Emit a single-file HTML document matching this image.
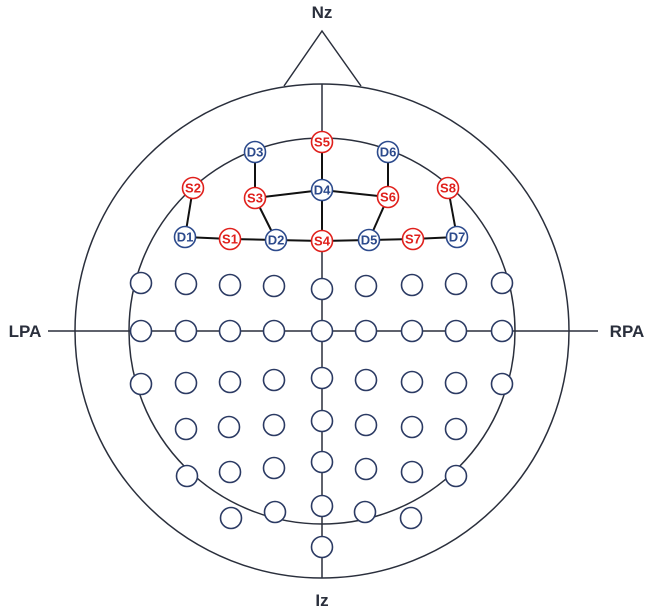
<!DOCTYPE html>
<html><head><style>html,body{margin:0;padding:0;background:#fff}</style></head><body>
<svg width="650" height="610" viewBox="0 0 650 610" xmlns="http://www.w3.org/2000/svg" font-family="Liberation Sans, sans-serif">
<g fill="none" stroke="#2a2f3c" stroke-width="1.5">
<circle cx="322" cy="331" r="247"/>
<circle cx="322" cy="331" r="193"/>
<polyline points="284,86 322,31 361,86"/>
<line x1="322" y1="84" x2="322" y2="578"/>
<line x1="48" y1="331" x2="598" y2="331"/>
</g>
<g font-weight="bold" font-size="17" fill="#2a2f3c" text-anchor="middle">
<text x="322" y="18">Nz</text>
<text x="25" y="337">LPA</text>
<text x="627" y="337">RPA</text>
<text x="322" y="606">Iz</text>
</g>
<g stroke="#111" stroke-width="2">
<line x1="322" y1="142" x2="322" y2="190"/>
<line x1="255" y1="152" x2="255" y2="198"/>
<line x1="388" y1="152" x2="388" y2="197"/>
<line x1="255" y1="198" x2="322" y2="190"/>
<line x1="322" y1="190" x2="388" y2="197"/>
<line x1="255" y1="198" x2="276" y2="240"/>
<line x1="322" y1="190" x2="322" y2="241"/>
<line x1="388" y1="197" x2="369" y2="240"/>
<line x1="193" y1="188" x2="185" y2="237"/>
<line x1="448" y1="188" x2="457" y2="237"/>
<polyline fill="none" points="185,237 230,239 276,240 322,241 369,240 413,239 457,237"/>
</g>
<g fill="#fff" stroke="#2b3a63" stroke-width="1.6">
<circle cx="141" cy="283" r="10.5"/><circle cx="186" cy="284" r="10.5"/><circle cx="230" cy="285" r="10.5"/><circle cx="274" cy="286" r="10.5"/><circle cx="322" cy="289" r="10.5"/><circle cx="366" cy="286" r="10.5"/><circle cx="412" cy="285" r="10.5"/><circle cx="456" cy="284" r="10.5"/><circle cx="502" cy="283" r="10.5"/>
<circle cx="141" cy="331" r="10.5"/><circle cx="186" cy="331" r="10.5"/><circle cx="230" cy="331" r="10.5"/><circle cx="274" cy="331" r="10.5"/><circle cx="322" cy="331" r="10.5"/><circle cx="366" cy="331" r="10.5"/><circle cx="412" cy="331" r="10.5"/><circle cx="456" cy="331" r="10.5"/><circle cx="502" cy="331" r="10.5"/>
<circle cx="141" cy="384" r="10.5"/><circle cx="186" cy="383" r="10.5"/><circle cx="230" cy="382" r="10.5"/><circle cx="274" cy="380" r="10.5"/><circle cx="322" cy="378" r="10.5"/><circle cx="366" cy="380" r="10.5"/><circle cx="412" cy="382" r="10.5"/><circle cx="456" cy="383" r="10.5"/><circle cx="502" cy="384" r="10.5"/>
<circle cx="186" cy="429" r="10.5"/><circle cx="229" cy="427" r="10.5"/><circle cx="274" cy="425" r="10.5"/><circle cx="322" cy="421" r="10.5"/><circle cx="366" cy="425" r="10.5"/><circle cx="412" cy="427" r="10.5"/><circle cx="456" cy="429" r="10.5"/>
<circle cx="187" cy="476" r="10.5"/><circle cx="230" cy="472" r="10.5"/><circle cx="274" cy="468" r="10.5"/><circle cx="322" cy="462" r="10.5"/><circle cx="366" cy="469" r="10.5"/><circle cx="412" cy="472" r="10.5"/><circle cx="456" cy="476" r="10.5"/>
<circle cx="231" cy="518" r="10.5"/><circle cx="275" cy="512" r="10.5"/><circle cx="322" cy="506" r="10.5"/><circle cx="365" cy="512" r="10.5"/><circle cx="411" cy="518" r="10.5"/>
<circle cx="322" cy="547" r="10.5"/>
</g>
<g font-size="13" font-weight="bold" text-anchor="middle" stroke-width="1.6">
<g fill="#fff" stroke="#e0201c">
<circle cx="322" cy="142" r="10.5"/><circle cx="193" cy="188" r="10.5"/><circle cx="448" cy="188" r="10.5"/><circle cx="255" cy="198" r="10.5"/><circle cx="388" cy="197" r="10.5"/><circle cx="230" cy="239" r="10.5"/><circle cx="322" cy="241" r="10.5"/><circle cx="413" cy="239" r="10.5"/>
</g>
<g fill="#fff" stroke="#2c4a8c">
<circle cx="255" cy="152" r="10.5"/><circle cx="388" cy="152" r="10.5"/><circle cx="322" cy="190" r="10.5"/><circle cx="185" cy="237" r="10.5"/><circle cx="276" cy="240" r="10.5"/><circle cx="369" cy="240" r="10.5"/><circle cx="457" cy="237" r="10.5"/>
</g>
<g fill="#e0201c">
<text x="322" y="146.5">S5</text><text x="193" y="192.5">S2</text><text x="448" y="192.5">S8</text><text x="255" y="202.5">S3</text><text x="388" y="201.5">S6</text><text x="230" y="243.5">S1</text><text x="322" y="245.5">S4</text><text x="413" y="243.5">S7</text>
</g>
<g fill="#2c4a8c">
<text x="255" y="156.5">D3</text><text x="388" y="156.5">D6</text><text x="322" y="194.5">D4</text><text x="185" y="241.5">D1</text><text x="276" y="244.5">D2</text><text x="369" y="244.5">D5</text><text x="457" y="241.5">D7</text>
</g>
</g>
</svg>
</body></html>
